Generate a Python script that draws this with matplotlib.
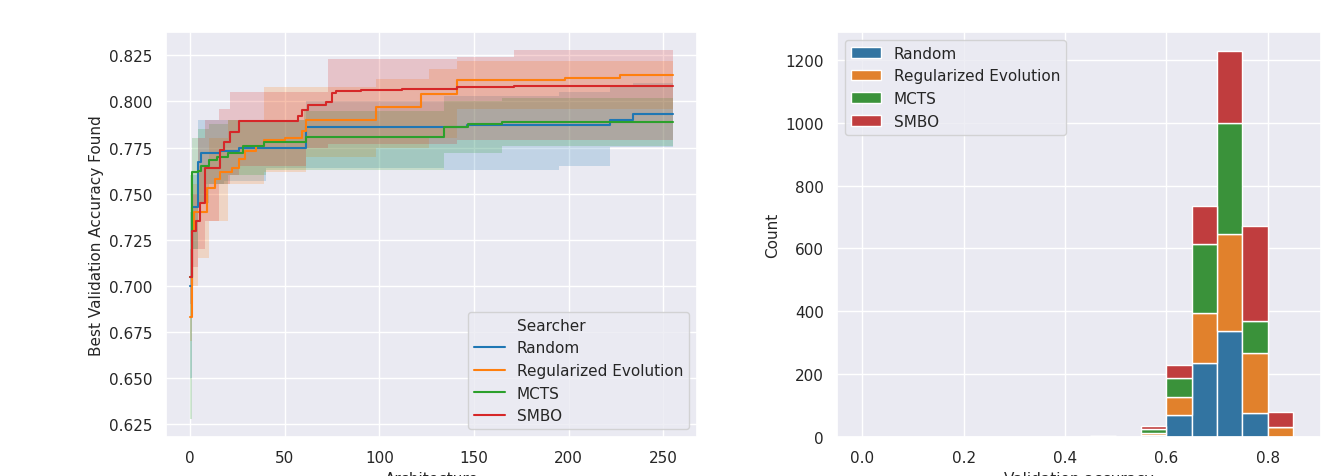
import numpy as np
import matplotlib
matplotlib.use('Agg')
import matplotlib.pyplot as plt
import seaborn as sns
from matplotlib.lines import Line2D

searchers = ['Random', 'Regularized Evolution', 'MCTS', 'SMBO']

# left panel: best accuracy so far (step points), mean and band
rand_x = [0, 1, 4, 6, 16, 26, 61, 146, 195, 222, 234, 255]
rand_y = [0.700, 0.743, 0.767, 0.772, 0.773, 0.775, 0.786, 0.787, 0.7875, 0.790, 0.793, 0.793]
rand_bx = [0, 1, 4, 8, 18, 40, 61, 134, 195, 222, 234, 255]
rand_lo = [0.650, 0.720, 0.745, 0.755, 0.757, 0.764, 0.764, 0.763, 0.765, 0.7755, 0.7755, 0.7755]
rand_hi = [0.740, 0.760, 0.790, 0.790, 0.790, 0.790, 0.800, 0.803, 0.805, 0.808, 0.810, 0.810]

re_x = [0, 1, 2, 9, 13, 16, 22, 26, 29, 35, 39, 50, 59, 61, 98, 122, 141, 198, 227, 255]
re_y = [0.683, 0.730, 0.740, 0.753, 0.758, 0.762, 0.764, 0.769, 0.773, 0.776, 0.779, 0.780,
        0.784, 0.790, 0.797, 0.804, 0.8115, 0.813, 0.8142, 0.8142]
re_bx = [0, 1, 4, 10, 20, 39, 61, 98, 126, 141, 255]
re_lo = [0.670, 0.700, 0.715, 0.735, 0.755, 0.762, 0.770, 0.775, 0.780, 0.796, 0.796]
re_hi = [0.700, 0.755, 0.765, 0.780, 0.790, 0.808, 0.808, 0.812, 0.8177, 0.822, 0.822]

mcts_x = [0, 1, 4, 6, 10, 14, 20, 28, 39, 61, 134, 147, 165, 255]
mcts_y = [0.705, 0.762, 0.7625, 0.765, 0.768, 0.770, 0.772, 0.776, 0.778, 0.781, 0.786,
          0.788, 0.789, 0.789]
mcts_bx = [0, 1, 4, 10, 20, 40, 60, 134, 165, 255]
mcts_lo = [0.628, 0.720, 0.745, 0.755, 0.760, 0.763, 0.763, 0.772, 0.776, 0.776]
mcts_hi = [0.760, 0.780, 0.785, 0.788, 0.790, 0.790, 0.795, 0.800, 0.802, 0.802]

smbo_x = [0, 1, 3, 5, 8, 16, 18, 21, 26, 57, 59, 62, 72, 75, 77, 90, 112, 141, 171, 255]
smbo_y = [0.705, 0.730, 0.735, 0.745, 0.7637, 0.7737, 0.778, 0.7837, 0.7895, 0.792, 0.7955,
          0.798, 0.7997, 0.8046, 0.8055, 0.806, 0.8068, 0.8077, 0.8083, 0.8083]
smbo_bx = [0, 1, 4, 8, 15, 21, 26, 61, 73, 141, 171, 255]
smbo_lo = [0.690, 0.710, 0.720, 0.735, 0.755, 0.760, 0.765, 0.775, 0.777, 0.779, 0.779, 0.779]
smbo_hi = [0.720, 0.750, 0.780, 0.790, 0.796, 0.8054, 0.8054, 0.8054, 0.823, 0.824, 0.8277, 0.8277]

# right panel: stacked histogram counts per 0.05 bin (0.0 .. 0.9)
bin_edges = np.round(np.arange(0, 0.9001, 0.05), 2)
cnt_random = [0, 0, 1, 0, 0, 0, 0, 0, 1, 1, 0, 6, 70, 236, 338, 76, 0, 0]
cnt_re = [0, 0, 0, 0, 0, 0, 0, 0, 0, 1, 0, 8, 58, 160, 307, 192, 32, 0]
cnt_mcts = [0, 0, 0, 0, 0, 0, 0, 0, 0, 1, 0, 10, 60, 217, 355, 102, 0, 0]
cnt_smbo = [0, 0, 0, 0, 0, 0, 0, 0, 0, 0, 0, 10, 40, 122, 227, 302, 49, 0]

sns.set_theme(style='darkgrid')
colors = sns.color_palette('tab10', 4)

fig = plt.figure(figsize=(13.21, 4.77), dpi=100)
ax1 = fig.add_axes([166 / 1321, 39 / 477, 531 / 1321, 405 / 477])
ax2 = fig.add_axes([837 / 1321, 39 / 477, 484 / 1321, 405 / 477])

lines = [(rand_x, rand_y, rand_bx, rand_lo, rand_hi),
         (re_x, re_y, re_bx, re_lo, re_hi),
         (mcts_x, mcts_y, mcts_bx, mcts_lo, mcts_hi),
         (smbo_x, smbo_y, smbo_bx, smbo_lo, smbo_hi)]

for (x, y, bx, lo, hi), c in zip(lines, colors):
    ax1.fill_between(bx, lo, hi, step='post', color=c, alpha=0.2, linewidth=0)
for (x, y, bx, lo, hi), c, name in zip(lines, colors, searchers):
    ax1.plot(x, y, drawstyle='steps-post', color=c, lw=1.5, label=name)

ax1.set_xlabel('Architecture', fontsize=11)
ax1.set_ylabel('Best Validation Accuracy Found', fontsize=11)
ax1.set_xticks([0, 50, 100, 150, 200, 250])
ax1.set_yticks(np.arange(0.625, 0.826, 0.025))

handles = [Line2D([], [], color='none')] + [Line2D([], [], color=c, lw=1.5) for c in colors]
ax1.legend(handles, ['Searcher'] + searchers, loc='lower right')

# histogram
centers = bin_edges[:-1] + 0.025
bar_colors = [sns.desaturate(c, 0.75) for c in colors]
ax2.hist([centers] * 4, bins=bin_edges,
         weights=[cnt_random, cnt_re, cnt_mcts, cnt_smbo],
         stacked=True, color=bar_colors, edgecolor='white', linewidth=1,
         label=searchers)
ax2.set_xlim(-0.05, 0.905)
ax2.set_xticks([0.0, 0.2, 0.4, 0.6, 0.8])
ax2.set_xlabel('Validation accuracy', fontsize=11)
ax2.set_ylabel('Count', fontsize=11)
ax2.legend(loc='upper left')

plt.savefig('out.png')
